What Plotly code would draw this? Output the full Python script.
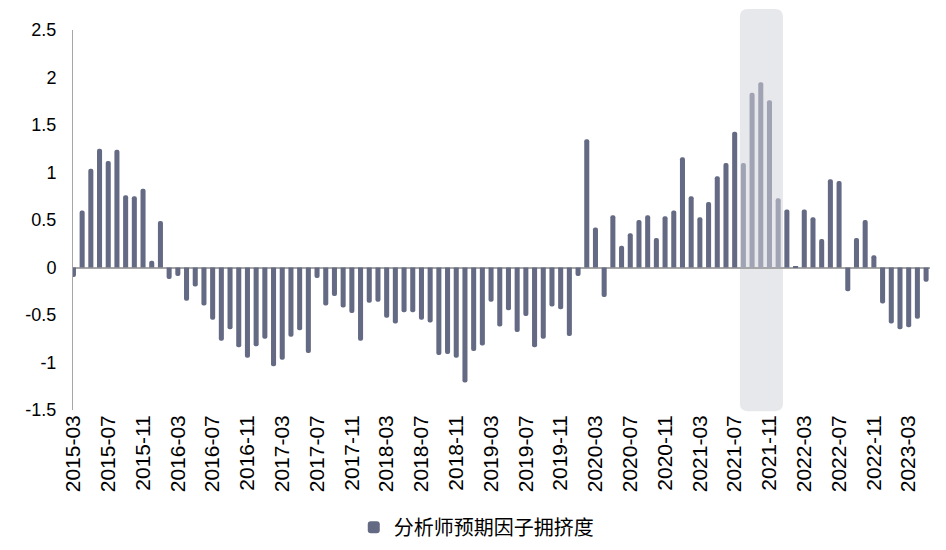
import pandas as pd
import plotly.graph_objects as go

# 月份 2015-03 ~ 2023-05
months = [p.strftime('%Y-%m') for p in pd.period_range('2015-03', '2023-05', freq='M')]

# 分析师预期因子拥挤度
crowding = [
    -0.10, 0.60, 1.04, 1.25, 1.12, 1.24, 0.76, 0.75, 0.83, 0.07,
    0.49, -0.12, -0.09, -0.35, -0.20, -0.40, -0.55, -0.77, -0.65, -0.84,
    -0.95, -0.83, -0.75, -1.04, -0.97, -0.73, -0.66, -0.90, -0.11, -0.40,
    -0.30, -0.42, -0.48, -0.77, -0.37, -0.36, -0.53, -0.59, -0.47, -0.47,
    -0.55, -0.58, -0.92, -0.91, -0.95, -1.21, -0.88, -0.82, -0.36, -0.62,
    -0.45, -0.68, -0.51, -0.84, -0.75, -0.41, -0.44, -0.72, -0.09, 1.35,
    0.42, -0.31, 0.55, 0.23, 0.36, 0.50, 0.55, 0.31, 0.54, 0.60,
    1.16, 0.75, 0.53, 0.69, 0.96, 1.10, 1.43, 1.10, 1.84, 1.95,
    1.76, 0.73, 0.61, 0.01, 0.61, 0.53, 0.30, 0.93, 0.91, -0.25,
    0.31, 0.50, 0.13, -0.38, -0.59, -0.65, -0.63, -0.54, -0.15,
]

# 高亮区间（2021-08 ~ 2021-12）
hl_start = months.index('2021-08')
hl_end = months.index('2021-12')

tick_months = months[::4]
y_ticks = [2.5, 2, 1.5, 1, 0.5, 0, -0.5, -1, -1.5]

idx = list(range(len(months)))
colors = ['#A0A3B3' if hl_start <= i <= hl_end else '#646A83' for i in idx]

font = 'Liberation Sans, Arial, Noto Sans CJK SC'

fig = go.Figure()
fig.add_trace(go.Bar(x=idx, y=crowding, name='分析师预期因子拥挤度',
                     marker=dict(color=colors, cornerradius=2, line=dict(width=0)),
                     customdata=months, hovertemplate='%{customdata}: %{y}<extra></extra>'))

# 高亮背景（圆角矩形，x 用数据坐标，y 用 paper 坐标以便超出绘图区上沿）
x0, x1 = hl_start - 0.4, hl_end + 0.55
y0, y1 = -0.003, 1.055
rx, ry = 0.9, 0.02
path = (f'M {x0+rx},{y0} L {x1-rx},{y0} Q {x1},{y0} {x1},{y0+ry} '
        f'L {x1},{y1-ry} Q {x1},{y1} {x1-rx},{y1} L {x0+rx},{y1} '
        f'Q {x0},{y1} {x0},{y1-ry} L {x0},{y0+ry} Q {x0},{y0} {x0+rx},{y0} Z')
fig.add_shape(type='path', path=path, xref='x', yref='paper', layer='below',
              fillcolor='#E7E8EC', line=dict(width=0))

xr = [-0.05, len(months) - 0.55]
fig.update_layout(
    width=946, height=550,
    margin=dict(l=65, r=24, t=22, b=148),
    plot_bgcolor='white', paper_bgcolor='white',
    font=dict(family=font, color='#000000'),
    bargap=0.42,
    showlegend=True,
    legend=dict(orientation='h', xref='container', yref='container',
                x=0.495, y=0.056, xanchor='center', yanchor='middle',
                font=dict(size=20), itemwidth=30),
    xaxis=dict(range=xr, tickmode='array', tickvals=idx[::4], ticktext=tick_months,
               tickangle=-90, tickfont=dict(size=21), showline=False, ticks='',
               showgrid=False, zeroline=False),
    xaxis2=dict(range=xr, overlaying='x', anchor='free', position=0.375,
                tickmode='array', tickvals=idx[::4], showticklabels=False,
                ticks='outside', ticklen=4, tickcolor='#A6A6A6', showline=False,
                showgrid=False, zeroline=False),
    yaxis=dict(range=[-1.5, 2.5], tickmode='array', tickvals=y_ticks,
               ticktext=[f'{v:g}' for v in y_ticks], tickfont=dict(size=18),
               showline=True, linecolor='#A6A6A6', linewidth=1, showgrid=False,
               zeroline=True, zerolinecolor='#A6A6A6', zerolinewidth=1.5,
               ticks='', ticklabelstandoff=12),
)

fig.write_html('out.html')
